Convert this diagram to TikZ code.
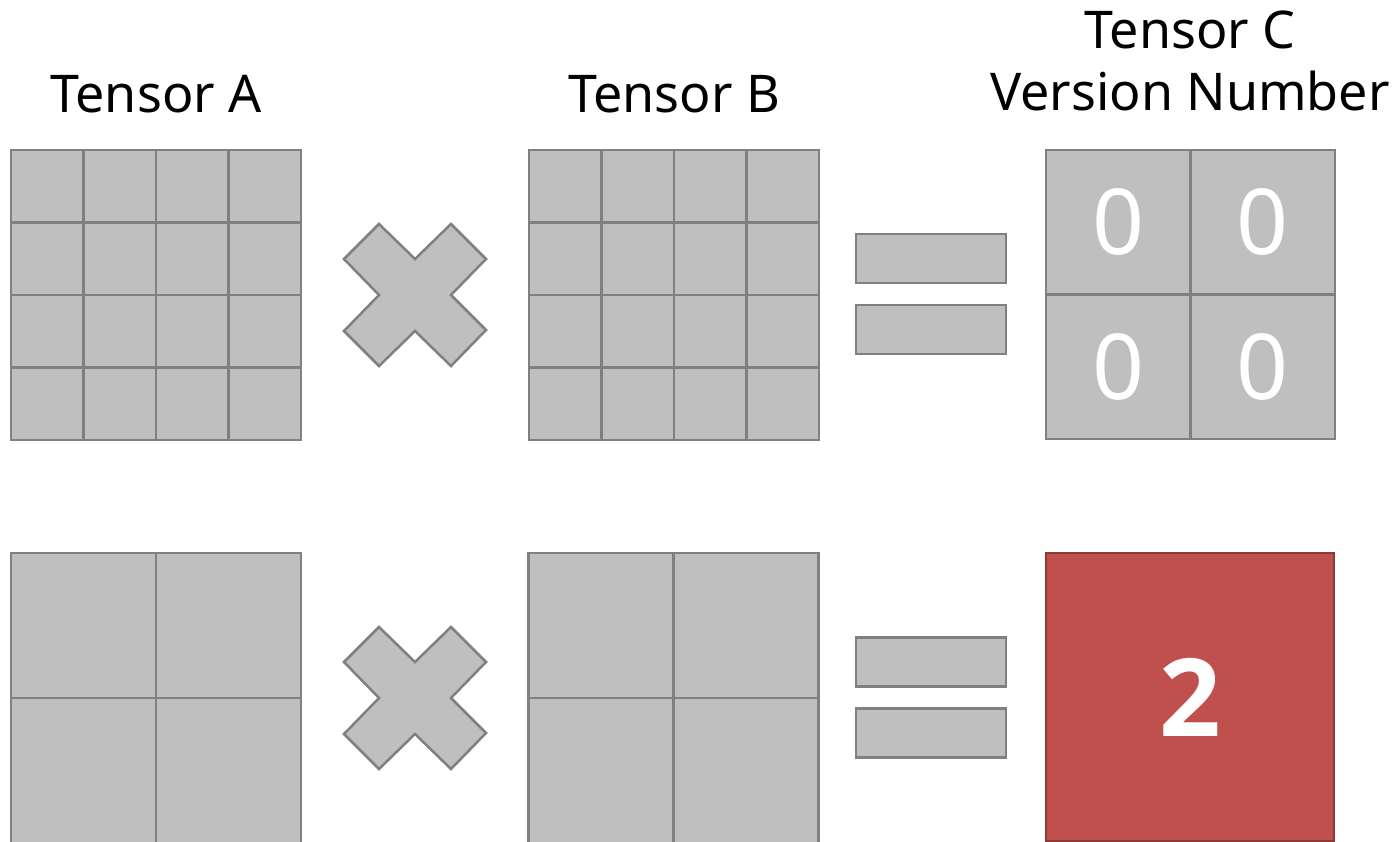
\documentclass[tikz,border=0pt]{standalone}
\usepackage{fontspec}
\setmainfont{Noto Sans}
\newfontfamily\versionfont{Open Sans}
\usetikzlibrary{positioning}

\definecolor{cellgray}{HTML}{BFBFBF}
\definecolor{edgegray}{HTML}{808080}
\definecolor{versionred}{HTML}{C0504D}
\definecolor{versionedge}{HTML}{8C3A38}

\begin{document}
\begin{tikzpicture}[x=1pt, y=-1pt, line width=2.5pt,
  cell/.style={draw=edgegray, fill=cellgray, inner sep=0pt, outer sep=0pt, minimum size=#1},
  bar/.style={draw=edgegray, fill=cellgray, inner sep=0pt, outer sep=0pt, minimum width=150, minimum height=49},
  cross/.style={draw=edgegray, fill=cellgray, line join=miter},
  title/.style={anchor=base, font=\fontsize{52}{62}\selectfont, align=center},
  zero/.style={text=white, font=\fontsize{91}{91}\selectfont},
  version/.style={draw=versionedge, fill=versionred, inner sep=0pt, minimum size=288,
    text=white, font=\versionfont\fontsize{108}{108}\selectfont\bfseries}]

\useasboundingbox (0,0) rectangle (1399,842);

% Create the fine grids (top row)
\foreach \m/\x in {A/47.25, B/565.25}
  \foreach \i in {0,...,3}
    \foreach \j in {0,...,3}
      \node [cell=72.5] (\m-\j-\i) at (\x+72.5*\i, 186.25+72.5*\j) {};

% Create the coarse grids (bottom row)
\foreach \m/\x in {a/83.5, b/601}
  \foreach \i in {0,1}
    \foreach \j in {0,1}
      \node [cell=145] (\m-\j-\i) at (\x+145*\i, 625.5+145*\j) {};

% Tensor C with its version numbers
\foreach \i in {0,1}
  \foreach \j in {0,1}
    \node [cell=144.5, zero] (C-\j-\i) at (1118.25+144.5*\i, 222.25+144.5*\j) {0};

\node [version] (c) at (1190,697) {2};

% The multiply signs
\foreach \n/\y in {top/295, bottom/698}
  \draw [cross] (415,\y) ++(-36,-71) -- ++(36,35) -- ++(36,-35) -- ++(35,35)
    -- ++(-35,36) -- ++(35,35) -- ++(-35,36) -- ++(-36,-35) -- ++(-36,35)
    -- ++(-35,-35) -- ++(35,-36) -- ++(-35,-36) -- cycle;

% The equal signs
\foreach \n/\y in {top/258.5, bottom/662}
{
  \node [bar] (eq-\n-1) at (931,\y) {};
  \node [bar, below=22pt of eq-\n-1] (eq-\n-2) {};
}

% Label the tensors
\node [title] (label-A) at (156,113) {Tensor A};
\node [title] (label-B) at (674,113) {Tensor B};
\node [title] (label-C) at (1190,111) {Tensor C\\Version Number};

\end{tikzpicture}
\end{document}
